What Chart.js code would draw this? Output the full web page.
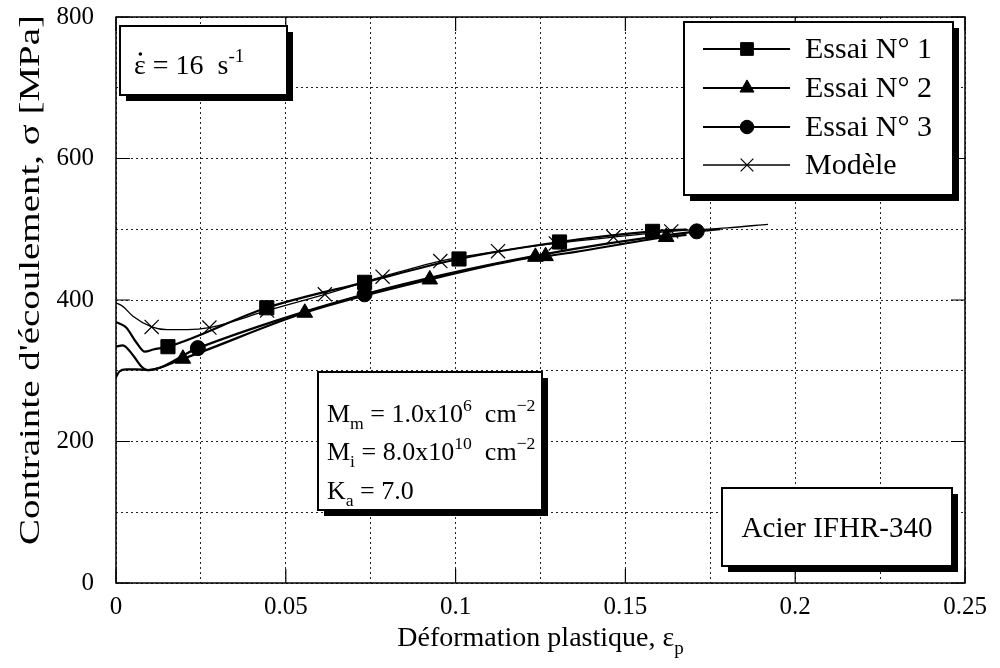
<!DOCTYPE html>
<html>
<head>
<meta charset="utf-8">
<script src="https://cdn.jsdelivr.net/npm/chart.js@4.4.0/dist/chart.umd.min.js"></script>
<style>
  html, body { margin: 0; padding: 0; background: #fff; }
</style>
</head>
<body>
<canvas id="myChart" width="1000" height="668"></canvas>
<script>
const serif = "'Liberation Serif', 'Times New Roman', serif";

// axes
const xTicks = [0, 0.025, 0.05, 0.075, 0.1, 0.125, 0.15, 0.175, 0.2, 0.225, 0.25];
const xTickLabels = ['0', '', '0.05', '', '0.1', '', '0.15', '', '0.2', '', '0.25'];
const yTicks = [0, 100, 200, 300, 400, 500, 600, 700, 800];
const yTickLabels = ['0', '', '200', '', '400', '', '600', '', '800'];

// Essai N° 1 (squares)
const essai1X = [0, 0.003, 0.006, 0.0085, 0.011, 0.0153, 0.0444, 0.0732, 0.101, 0.1306, 0.158, 0.168];
const essai1Y = [369, 361, 340, 327, 330, 334, 389, 425, 458, 482, 497, 500];
const essai1MarkX = [0.0153, 0.0444, 0.0732, 0.101, 0.1306, 0.158];
const essai1MarkY = [334, 389, 425, 458, 482, 497];

// Essai N° 2 (triangles)
const essai2X = [0, 0.002, 0.005, 0.0075, 0.0094, 0.0197, 0.0556, 0.0924, 0.1235, 0.1265, 0.162, 0.168];
const essai2Y = [334, 336, 322, 306, 301, 317, 382, 429, 461, 462, 489, 492];
const essai2MarkX = [0.0197, 0.0556, 0.0924, 0.1235, 0.1265, 0.162];
const essai2MarkY = [317, 382, 429, 461, 462, 489];

// Essai N° 3 (circles)
const essai3X = [0, 0.001, 0.003, 0.006, 0.0094, 0.0241, 0.0732, 0.123, 0.171, 0.178];
const essai3Y = [291, 299, 302, 302, 301, 332, 408, 462, 497, 500];
const essai3MarkX = [0.0241, 0.0732, 0.171];
const essai3MarkY = [332, 408, 497];

// Modèle (crosses)
const modelX = [0, 0.002, 0.005, 0.0105, 0.015, 0.021, 0.0275, 0.0445, 0.0615, 0.0785, 0.0955, 0.1125, 0.1295, 0.1465, 0.1635, 0.18, 0.192];
const modelY = [396, 391, 377, 362, 358, 358, 361, 385, 408, 433, 455, 469, 480, 489, 497, 502, 507];
const modelMarkX = [0.0105, 0.0275, 0.0445, 0.0615, 0.0785, 0.0955, 0.1125, 0.1295, 0.1465, 0.1635];
const modelMarkY = [362, 361, 385, 408, 433, 455, 469, 480, 489, 497];

const legendNames = ['Essai N° 1', 'Essai N° 2', 'Essai N° 3', 'Modèle'];

function pts(xs, ys) {
  return xs.map((v, i) => ({ x: v, y: ys[i] }));
}

const markStyles = [
  { pointStyle: 'rect', radius: 10, borderWidth: 1 },
  { pointStyle: 'triangle', radius: 9, borderWidth: 1 },
  { pointStyle: 'circle', radius: 7.5, borderWidth: 1 },
  { pointStyle: 'crossRot', radius: 10, borderWidth: 1.2 }
];

function markSet(xs, ys, st) {
  return {
    data: pts(xs, ys),
    showLine: false,
    pointStyle: st.pointStyle,
    pointRadius: st.radius,
    pointBorderWidth: st.borderWidth,
    pointBackgroundColor: '#000',
    pointBorderColor: '#000'
  };
}

function lineSet(xs, ys, w) {
  return {
    data: pts(xs, ys),
    showLine: true,
    borderColor: '#000',
    borderWidth: w,
    pointRadius: 0,
    cubicInterpolationMode: 'monotone'
  };
}

// draws text with sub (1) / superscript (2) parts
function richText(ctx, x, y, parts, size) {
  parts.forEach(([t, m]) => {
    const s = m ? size * 0.68 : size;
    ctx.font = s + 'px ' + serif;
    const dy = m === 1 ? size * 0.28 : (m === 2 ? -size * 0.42 : 0);
    ctx.fillText(t, x, y + dy);
    x += ctx.measureText(t).width;
  });
  return x;
}

function richWidth(ctx, parts, size) {
  let w = 0;
  parts.forEach(([t, m]) => {
    ctx.font = (m ? size * 0.68 : size) + 'px ' + serif;
    w += ctx.measureText(t).width;
  });
  return w;
}

function shadowBox(ctx, l, t, r, b) {
  ctx.fillStyle = '#000';
  ctx.fillRect(l + 6, t + 6, r - l, b - t);
  ctx.fillStyle = '#fff';
  ctx.fillRect(l, t, r - l, b - t);
  ctx.lineWidth = 2;
  ctx.strokeStyle = '#000';
  ctx.strokeRect(l, t, r - l, b - t);
}

const decor = {
  id: 'decor',
  afterDatasetsDraw(chart) {
    const { ctx, chartArea: a, scales: { x, y } } = chart;
    ctx.save();
    ctx.strokeStyle = '#000';
    ctx.fillStyle = '#000';

    // frame
    ctx.lineWidth = 1.5;
    ctx.strokeRect(a.left, a.top, a.right - a.left, a.bottom - a.top);

    // inner ticks
    ctx.lineWidth = 1.2;
    ctx.beginPath();
    xTicks.forEach((v, i) => {
      if (!xTickLabels[i]) return;
      const px = x.getPixelForValue(v);
      ctx.moveTo(px, a.bottom); ctx.lineTo(px, a.bottom - 14);
      ctx.moveTo(px, a.top); ctx.lineTo(px, a.top + 14);
    });
    yTicks.forEach((v, i) => {
      if (!yTickLabels[i]) return;
      const py = y.getPixelForValue(v);
      ctx.moveTo(a.left, py); ctx.lineTo(a.left + 14, py);
      ctx.moveTo(a.right, py); ctx.lineTo(a.right - 14, py);
    });
    ctx.stroke();

    // axis titles
    ctx.fillStyle = '#000';
    ctx.textBaseline = 'alphabetic';
    ctx.textAlign = 'left';
    const xt = [['Déformation plastique, ε', 0], ['p', 1]];
    const xw = richWidth(ctx, xt, 28);
    richText(ctx, (a.left + a.right) / 2 - xw / 2, 646, xt, 28);

    ctx.save();
    ctx.translate(31, 280);
    ctx.rotate(-Math.PI / 2);
    ctx.font = '29px ' + serif;
    const yt = "Contrainte d'écoulement, σ [MPa]";
    const yw = ctx.measureText(yt).width;
    ctx.scale(530 / yw, 1);
    ctx.textAlign = 'center';
    ctx.textBaseline = 'middle';
    ctx.fillText(yt, 0, 0);
    ctx.restore();

    // strain rate box
    shadowBox(ctx, 120, 26, 287, 95);
    ctx.fillStyle = '#000';
    ctx.textAlign = 'left';
    ctx.font = '28px ' + serif;
    const epsW = ctx.measureText('ε').width;
    ctx.fillText('ε', 134, 74);
    ctx.beginPath();
    ctx.arc(134 + epsW / 2 + 0.5, 54, 1.8, 0, Math.PI * 2);
    ctx.fill();
    richText(ctx, 134 + epsW, 74, [[' = 16  s', 0], ['-1', 2]], 28);

    // legend box
    shadowBox(ctx, 684, 22, 953, 195);
    const rows = [49, 88, 127, 165];
    const lineW = [2, 2, 2, 1.3];
    rows.forEach((ry, i) => {
      ctx.strokeStyle = '#000';
      ctx.lineWidth = lineW[i];
      ctx.beginPath();
      ctx.moveTo(703, ry); ctx.lineTo(790, ry);
      ctx.stroke();
      ctx.fillStyle = '#000';
      ctx.lineWidth = markStyles[i].borderWidth;
      Chart.helpers.drawPoint(ctx, {
        pointStyle: markStyles[i].pointStyle,
        radius: markStyles[i].radius * 0.9,
        borderWidth: markStyles[i].borderWidth,
        rotation: 0
      }, 747, ry);
      ctx.fillStyle = '#000';
      ctx.font = '30px ' + serif;
      ctx.textBaseline = 'middle';
      ctx.fillText(legendNames[i], 805, ry + 1);
    });
    ctx.textBaseline = 'alphabetic';

    // parameters box
    shadowBox(ctx, 318, 372, 542, 510);
    ctx.fillStyle = '#000';
    richText(ctx, 327, 422, [['M', 0], ['m', 1], [' = 1.0x10', 0], ['6', 2], ['  cm', 0], ['−2', 2]], 26);
    richText(ctx, 327, 460, [['M', 0], ['i', 1], [' = 8.0x10', 0], ['10', 2], ['  cm', 0], ['−2', 2]], 26);
    richText(ctx, 327, 499, [['K', 0], ['a', 1], [' = 7.0', 0]], 26);

    // material box
    shadowBox(ctx, 722, 488, 952, 566);
    ctx.fillStyle = '#000';
    ctx.font = '29px ' + serif;
    ctx.textAlign = 'center';
    ctx.fillText('Acier IFHR-340', 837, 537);

    ctx.restore();
  }
};

const ctx = document.getElementById('myChart');
new Chart(ctx, {
  type: 'scatter',
  data: {
    datasets: [
      markSet(essai1MarkX, essai1MarkY, markStyles[0]),
      markSet(essai2MarkX, essai2MarkY, markStyles[1]),
      markSet(essai3MarkX, essai3MarkY, markStyles[2]),
      markSet(modelMarkX, modelMarkY, markStyles[3]),
      lineSet(essai1X, essai1Y, 2.2),
      lineSet(essai2X, essai2Y, 2.2),
      lineSet(essai3X, essai3Y, 2.2),
      lineSet(modelX, modelY, 1.3)
    ]
  },
  options: {
    responsive: false,
    animation: false,
    layout: { padding: { left: 8, top: 17, right: 35, bottom: 0 } },
    plugins: { legend: { display: false }, tooltip: { enabled: false } },
    scales: {
      x: {
        type: 'linear', min: 0, max: 0.25,
        afterBuildTicks: (s) => { s.ticks = xTicks.map(v => ({ value: v })); },
        afterFit: (s) => { s.height = 85; s.paddingLeft = 0; s.paddingRight = 0; },
        grid: { color: '#222', lineWidth: 1, drawTicks: false },
        border: { display: false, dash: [2, 3] },
        ticks: {
          padding: 9, color: '#000', maxRotation: 0, autoSkip: false,
          font: { family: serif, size: 25 },
          callback: (v, i) => xTickLabels[i]
        }
      },
      y: {
        type: 'linear', min: 0, max: 800,
        afterBuildTicks: (s) => { s.ticks = yTicks.map(v => ({ value: v })); },
        afterFit: (s) => { s.width = 108; s.paddingTop = 0; s.paddingBottom = 0; },
        grid: { color: '#222', lineWidth: 1, drawTicks: false },
        border: { display: false, dash: [2, 3] },
        ticks: {
          padding: 22, color: '#000', autoSkip: false,
          font: { family: serif, size: 25 },
          callback: (v, i) => yTickLabels[i]
        }
      }
    }
  },
  plugins: [decor]
});
</script>
</body>
</html>
